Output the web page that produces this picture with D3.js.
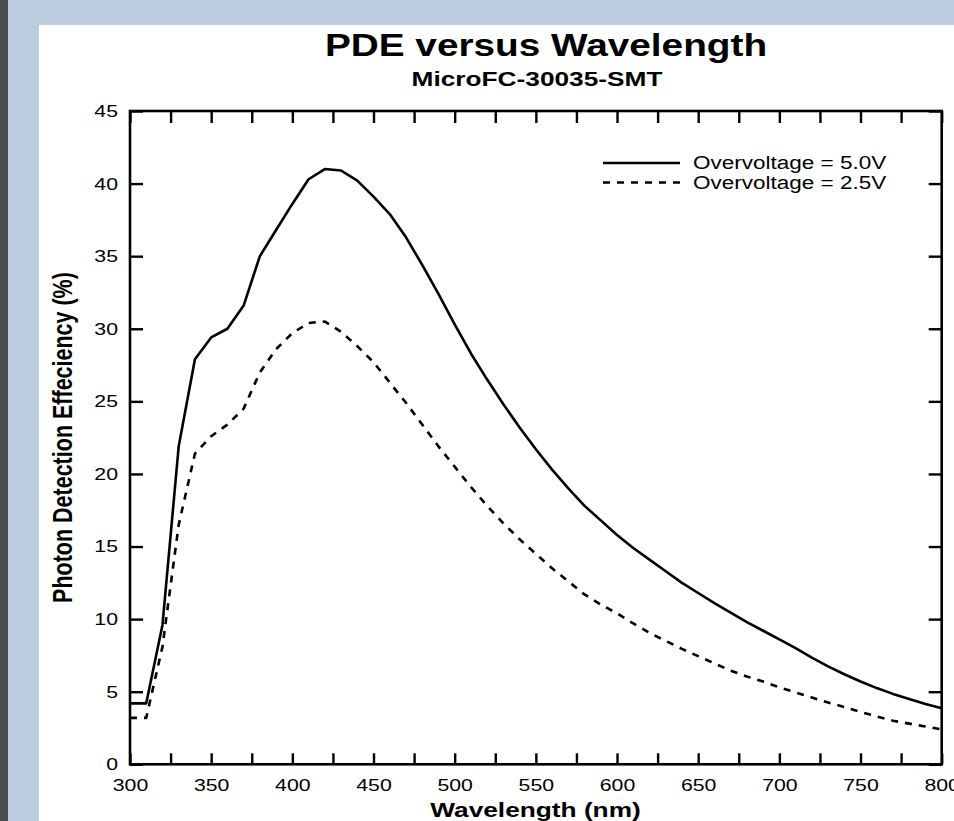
<!DOCTYPE html>
<html>
<head>
<meta charset="utf-8">
<script src="https://cdn.jsdelivr.net/npm/d3@7"></script>
<style>
  html, body { margin: 0; padding: 0; background: #bccddf; }
  svg { display: block; }
  text { font-family: "Liberation Sans", Arial, Helvetica, sans-serif; fill: #000; }
</style>
</head>
<body>
<svg id="chart" width="954" height="821"></svg>
<script>
// page + plot box
const W = 954, H = 821;
const box = {left: 130, right: 941.7, top: 111, bottom: 764.3};
// the source picture is stretched sideways, so text is too
const stretchX = 1.25;

// wavelength grid (nm)
const wavelengths = [300, 310, 320, 330, 340, 350, 360, 370, 380, 390,
                     400, 410, 420, 430, 440, 450, 460, 470, 480, 490,
                     500, 510, 520, 530, 540, 550, 560, 570, 580, 590,
                     600, 610, 620, 630, 640, 650, 660, 670, 680, 690,
                     700, 710, 720, 730, 740, 750, 760, 770, 780, 790, 800];

// PDE (%) at overvoltage 5.0V
const pde50 = [4.2, 4.2, 9.6, 21.9, 27.9, 29.4, 30.0, 31.6, 35.0, 36.8,
               38.6, 40.3, 41.0, 40.9, 40.2, 39.1, 37.9, 36.3, 34.4, 32.4,
               30.3, 28.3, 26.5, 24.8, 23.2, 21.7, 20.3, 19.0, 17.8, 16.8,
               15.8, 14.9, 14.1, 13.3, 12.5, 11.8, 11.1, 10.45, 9.8, 9.2,
               8.6, 8.0, 7.35, 6.75, 6.2, 5.7, 5.25, 4.85, 4.5, 4.15, 3.86];

// PDE (%) at overvoltage 2.5V
const pde25 = [3.2, 3.2, 8.1, 16.5, 21.4, 22.6, 23.4, 24.5, 27.0, 28.6,
               29.7, 30.4, 30.5, 29.8, 28.8, 27.7, 26.3, 24.9, 23.4, 21.9,
               20.5, 19.1, 17.8, 16.6, 15.5, 14.5, 13.5, 12.6, 11.7, 11.0,
               10.4, 9.7, 9.05, 8.5, 7.95, 7.45, 6.95, 6.45, 6.05, 5.7,
               5.3, 4.95, 4.6, 4.25, 3.95, 3.6, 3.3, 3.0, 2.8, 2.6, 2.4];

const seriesNames = ["Overvoltage = 5.0V", "Overvoltage = 2.5V"];
const seriesDash = [null, "7,7"];

const xTicks = [300, 325, 350, 375, 400, 425, 450, 475, 500, 525, 550,
                575, 600, 625, 650, 675, 700, 725, 750, 775, 800];
const xTickLabels = ["300", "350", "400", "450", "500", "550", "600", "650", "700", "750", "800"];
const yTicks = [0, 5, 10, 15, 20, 25, 30, 35, 40, 45];

const svg = d3.select("#chart");

// background pieces
svg.append("rect").attr("width", W).attr("height", H).attr("fill", "#bccddf");
svg.append("rect").attr("width", 8).attr("height", H).attr("fill", "#4a4b4f");
svg.append("rect").attr("x", 39).attr("y", 25).attr("width", W - 39).attr("height", H - 25).attr("fill", "#fff");

// widen a text node horizontally
function stretch(sel, k) {
  sel.each(function () {
    const len = this.getComputedTextLength();
    d3.select(this).attr("textLength", len * k).attr("lengthAdjust", "spacingAndGlyphs");
  });
}

const x = d3.scaleLinear().domain([300, 800]).range([box.left, box.right]);
const y = d3.scaleLinear().domain([0, 45]).range([box.bottom, box.top]);

// axes, ticks pointing inwards
const xAxis = d3.axisBottom(x).tickValues(xTicks).tickSize(-11).tickSizeOuter(0).tickPadding(15)
  .tickFormat(d => xTickLabels.includes(String(d)) ? String(d) : "");
const xTop = d3.axisTop(x).tickValues(xTicks).tickSize(-12).tickSizeOuter(0).tickFormat("");
const yAxis = d3.axisLeft(y).tickValues(yTicks).tickSize(-13).tickSizeOuter(0).tickPadding(12);
const yRight = d3.axisRight(y).tickValues(yTicks).tickSize(-13).tickSizeOuter(0).tickFormat("");

function styleAxis(g) {
  g.select(".domain").remove();
  g.selectAll(".tick line").attr("stroke", "#000").attr("stroke-width", 2.4);
  g.selectAll(".tick text").attr("font-size", 17).attr("font-family", null).attr("fill", "#000");
}

svg.append("g").attr("transform", `translate(0,${box.bottom})`).call(xAxis).call(styleAxis);
svg.append("g").attr("transform", `translate(0,${box.top})`).call(xTop).call(styleAxis);
svg.append("g").attr("transform", `translate(${box.left},0)`).call(yAxis).call(styleAxis);
svg.append("g").attr("transform", `translate(${box.right},0)`).call(yRight).call(styleAxis);
stretch(svg.selectAll(".tick text"), stretchX);

// plot frame
svg.append("rect")
  .attr("x", box.left).attr("y", box.top)
  .attr("width", box.right - box.left).attr("height", box.bottom - box.top)
  .attr("fill", "none").attr("stroke", "#000").attr("stroke-width", 2.6);

// curves
const line = d3.line().x(d => x(d[0])).y(d => y(d[1]));
[pde50, pde25].forEach((vals, i) => {
  svg.append("path")
    .datum(wavelengths.map((w, j) => [w, vals[j]]))
    .attr("d", line)
    .attr("fill", "none")
    .attr("stroke", "#000")
    .attr("stroke-width", 2.6)
    .attr("stroke-linejoin", "round")
    .attr("stroke-dasharray", seriesDash[i]);
});

// legend
const legend = svg.append("g").attr("transform", "translate(603,163)");
seriesNames.forEach((name, i) => {
  legend.append("line")
    .attr("x1", 0).attr("x2", 77).attr("y1", i * 19.5).attr("y2", i * 19.5)
    .attr("stroke", "#000").attr("stroke-width", 2.4)
    .attr("stroke-dasharray", seriesDash[i]);
  legend.append("text")
    .attr("x", 90).attr("y", i * 19.5 + 6)
    .attr("font-size", 18)
    .text(name);
});
stretch(legend.selectAll("text"), stretchX);

// titles
const title = svg.append("text")
  .attr("x", 546).attr("y", 56).attr("text-anchor", "middle")
  .attr("font-size", 31).attr("font-weight", "bold")
  .text("PDE versus Wavelength");
const subtitle = svg.append("text")
  .attr("x", 537).attr("y", 86).attr("text-anchor", "middle")
  .attr("font-size", 21).attr("font-weight", "bold")
  .text("MicroFC-30035-SMT");
const xLabel = svg.append("text")
  .attr("x", 535.5).attr("y", 817).attr("text-anchor", "middle")
  .attr("font-size", 21).attr("font-weight", "bold")
  .text("Wavelength (nm)");
stretch(title, stretchX);
stretch(subtitle, stretchX);
stretch(xLabel, stretchX);

svg.append("text")
  .attr("transform", `translate(72,437.5) rotate(-90) scale(1,${stretchX})`)
  .attr("text-anchor", "middle")
  .attr("font-size", 21.5).attr("font-weight", "bold")
  .text("Photon Detection Effeciency (%)");
</script>
</body>
</html>
